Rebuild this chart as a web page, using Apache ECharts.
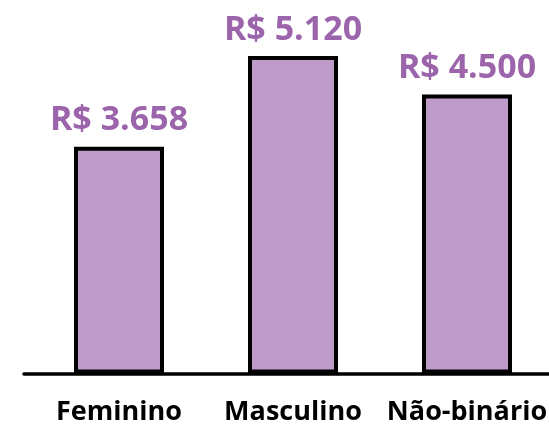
<!DOCTYPE html>
<html>
<head>
<meta charset="utf-8">
<script src="https://cdn.jsdelivr.net/npm/echarts@6/dist/echarts.min.js"></script>
<style>
  html, body { margin: 0; padding: 0; background: #fff; }
  #chart { width: 549px; height: 427px; }
</style>
</head>
<body>
<div id="chart"></div>
<script>
// categorias e valores (salário médio)
const categories = ['Feminino', 'Masculino', 'Não-binário']
const values = [3658, 5120, 4500]

const fmtBRL = v => 'R$ ' + v.toLocaleString('pt-BR')

const chart = echarts.init(document.getElementById('chart'))

const option = {
  backgroundColor: '#ffffff',
  animation: false,
  grid: [
    // grid das barras (passa um pouco da borda direita)
    { left: 32, width: 522, top: 1.5, bottom: 53.5, outerBoundsMode: 'none' },
    // grid só para a linha do eixo, de ponta a ponta
    { left: 24, right: 0, top: 1.5, bottom: 53.5, outerBoundsMode: 'none' }
  ],
  xAxis: [
    {
      type: 'category',
      gridIndex: 0,
      data: categories,
      axisLine: { show: false },
      axisTick: { show: false },
      axisLabel: {
        color: '#000000',
        fontFamily: 'Open Sans',
        fontWeight: 'bold',
        fontSize: 27,
        margin: 25,
        interval: 0
      }
    },
    {
      type: 'value',
      gridIndex: 1,
      min: 0,
      max: 1,
      axisLine: { show: true, onZero: false, lineStyle: { color: '#000000', width: 3.5 } },
      axisTick: { show: false },
      axisLabel: { show: false },
      splitLine: { show: false }
    }
  ],
  yAxis: [
    {
      type: 'value',
      gridIndex: 0,
      min: 0,
      max: 6000,
      show: false
    },
    {
      type: 'value',
      gridIndex: 1,
      min: 0,
      max: 1,
      show: false
    }
  ],
  series: [
    {
      type: 'bar',
      xAxisIndex: 0,
      yAxisIndex: 0,
      data: values,
      barWidth: 90,
      itemStyle: {
        color: '#BF9BCA',
        borderColor: '#000000',
        borderWidth: 4
      },
      label: {
        show: true,
        position: 'top',
        distance: 9,
        color: '#9B64AB',
        fontFamily: 'Open Sans',
        fontWeight: 'bold',
        fontSize: 34,
        formatter: p => fmtBRL(p.value)
      }
    }
  ]
}

chart.setOption(option)
</script>
</body>
</html>
